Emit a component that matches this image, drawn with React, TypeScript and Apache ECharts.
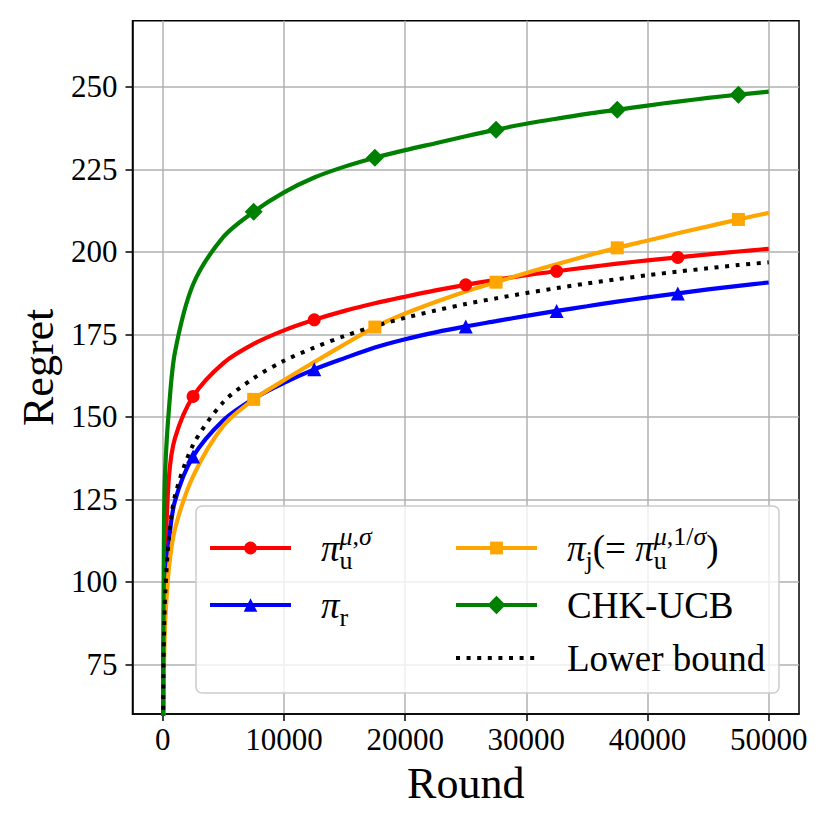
import React, { useEffect, useRef } from "react";
import * as echarts from "echarts";

const rounds = [10, 50, 100, 200, 500, 1000, 2500, 5000, 7500, 10000, 12500, 15000, 17500, 20000, 22500, 25000, 27500, 30000, 32500, 35000, 37500, 40000, 42500, 45000, 47500, 50000];

const regretU = [50, 78, 92, 106, 131.5, 143.5, 156.2, 166.3, 172.1, 176.2, 179.4, 182.1, 184.4, 186.4, 188.3, 190.0, 191.5, 192.9, 194.1, 195.3, 196.4, 197.4, 198.3, 199.2, 200.1, 200.9];
const regretR = [45, 72, 84, 96, 112, 124.5, 138, 149, 155.5, 160.3, 164.4, 167.8, 171.0, 173.5, 175.6, 177.4, 179.0, 180.6, 182.1, 183.5, 184.9, 186.2, 187.4, 188.6, 189.7, 190.7];
const regretJ = [38, 63, 75, 88, 104, 116, 132, 147.3, 155.3, 161.1, 166.6, 172.0, 177.2, 181.3, 184.8, 188.0, 190.8, 193.6, 196.2, 198.8, 201.2, 203.4, 205.6, 207.7, 209.8, 211.8];
const regretCHK = [45, 80, 117, 134, 152, 169.5, 190.1, 204.5, 212.1, 218, 222.5, 225.8, 228.5, 230.8, 232.9, 235.0, 237.0, 238.8, 240.3, 241.8, 243.0, 244.3, 245.5, 246.6, 247.6, 248.5];
const lowerBound = [42, 71, 84, 96.5, 113, 126, 141.5, 154.5, 161.7, 167, 171, 174.5, 177.5, 180, 182.2, 184.2, 185.9, 187.5, 189, 190.4, 191.7, 192.9, 194, 195, 196, 196.8];

const markersA = [2500, 12500, 25000, 32500, 42500];
const markersB = [7500, 17500, 27500, 37500, 47500];

const xTicks = [0, 10000, 20000, 30000, 40000, 50000];
const yTicks = [75, 100, 125, 150, 175, 200, 225, 250];

const names = ["piU", "piR", "piJ", "CHK-UCB", "Lower bound"];

const FONT = "Liberation Serif";

function buildData(values: number[], marks: number[] | null) {
  return rounds.map((r, i) => {
    if (marks && marks.indexOf(r) >= 0) return { value: [r, values[i]] };
    return { value: [r, values[i]], symbol: "none" };
  });
}

const rich = {
  sp: { width: 25, fontSize: 37, lineHeight: 50 },
  pi: { fontFamily: FONT, fontStyle: "italic", fontSize: 37, lineHeight: 50, color: "#000" },
  t: { fontFamily: FONT, fontSize: 37, lineHeight: 50, color: "#000" },
  sub: { fontFamily: FONT, fontSize: 26, lineHeight: 25, verticalAlign: "bottom", color: "#000" },
  subz: { fontFamily: FONT, fontSize: 26, lineHeight: 25, verticalAlign: "bottom", width: 0, color: "#000" },
  sup: { fontFamily: FONT, fontStyle: "italic", fontSize: 26, lineHeight: 25, verticalAlign: "top", color: "#000" },
  supr: { fontFamily: FONT, fontSize: 26, lineHeight: 25, verticalAlign: "top", color: "#000" },
};

const labels: Record<string, string> = {
  piU: "{sp| }{pi|π}{subz|u}{sup|μ}{supr|,}{sup|σ}",
  piR: "{sp| }{pi|π}{sub|r}",
  piJ: "{sp| }{pi|π}{sub|j}{t|(= }{pi|π}{subz|u}{sup|μ}{supr|,1/}{sup|σ}{t|)}",
  "CHK-UCB": "{sp| }{t|CHK-UCB}",
  "Lower bound": "{sp| }{t|Lower bound}",
};

function legendAt(name: string, left: number, top: number, iconH: number) {
  return {
    data: [name],
    left,
    top,
    orient: "vertical",
    padding: 0,
    itemWidth: 81,
    itemHeight: iconH,
    z: 10,
    selectedMode: false,
    lineStyle: { width: 4 },
    formatter: (n: string) => labels[n],
    textStyle: { fontFamily: FONT, fontSize: 37, lineHeight: 50, color: "#000", rich },
  };
}

export default function App() {
  const ref = useRef<HTMLDivElement>(null);
  useEffect(() => {
    if (!ref.current) return;
    const chart = echarts.init(ref.current, undefined, { renderer: "svg" });
    const lw = 4.2;
    const option = {
      animation: false,
      backgroundColor: "#fff",
      grid: { left: 132.5, right: 31, top: 20.7, bottom: 116, show: true, borderColor: "#000", borderWidth: 1.5, backgroundColor: "transparent" },
      xAxis: {
        type: "value",
        min: -2500,
        max: 52500,
        name: "Round",
        nameLocation: "middle",
        nameGap: 47,
        nameTextStyle: { fontFamily: FONT, fontSize: 44, color: "#000" },
        axisLine: { show: true, onZero: false, lineStyle: { color: "#000", width: 1.5 } },
        axisTick: { show: true, length: 7, lineStyle: { color: "#000", width: 1.5 }, customValues: xTicks },
        axisLabel: { customValues: xTicks, fontFamily: FONT, fontSize: 31, color: "#000", margin: 10, formatter: (v: number) => String(v) },
        splitLine: { show: true, lineStyle: { color: "#b0b0b0", width: 1.5 } },
      },
      yAxis: {
        type: "value",
        min: 60,
        max: 270,
        name: "Regret",
        nameLocation: "middle",
        nameGap: 72,
        nameTextStyle: { fontFamily: FONT, fontSize: 44, color: "#000" },
        axisLine: { show: true, onZero: false, lineStyle: { color: "#000", width: 1.5 } },
        axisTick: { show: true, length: 7, lineStyle: { color: "#000", width: 1.5 }, customValues: yTicks },
        axisLabel: { customValues: yTicks, fontFamily: FONT, fontSize: 31, color: "#000", margin: 15, formatter: (v: number) => String(v) },
        splitLine: { show: true, lineStyle: { color: "#b0b0b0", width: 1.5 } },
      },
      legend: [
        legendAt("piU", 208, 523, 16),
        legendAt("piR", 208, 580, 17),
        legendAt("piJ", 454, 523, 16),
        legendAt("CHK-UCB", 454, 580, 23),
        legendAt("Lower bound", 454, 633, 16),
      ],
      graphic: {
        elements: [
          {
            type: "rect",
            z: 3,
            shape: { x: 196, y: 506, width: 583, height: 187, r: 6 },
            style: { fill: "rgba(255,255,255,0.8)", stroke: "#cccccc", lineWidth: 1.5 },
          },
        ],
      },
      series: [
        {
          name: names[0], type: "line", smooth: 0.3,
          data: buildData(regretU, markersA), symbol: "circle", symbolSize: 13,
          color: "#ff0000", lineStyle: { width: lw, color: "#ff0000" }, itemStyle: { color: "#ff0000" },
        },
        {
          name: names[1], type: "line", smooth: 0.3,
          data: buildData(regretR, markersA), symbol: "triangle", symbolSize: 14,
          color: "#0000ff", lineStyle: { width: lw, color: "#0000ff" }, itemStyle: { color: "#0000ff" },
        },
        {
          name: names[2], type: "line", smooth: 0.3,
          data: buildData(regretJ, markersB), symbol: "rect", symbolSize: 13,
          color: "#ffa500", lineStyle: { width: lw, color: "#ffa500" }, itemStyle: { color: "#ffa500" },
        },
        {
          name: names[3], type: "line", smooth: 0.3,
          data: buildData(regretCHK, markersB), symbol: "diamond", symbolSize: 18,
          color: "#008000", lineStyle: { width: lw, color: "#008000" }, itemStyle: { color: "#008000" },
        },
        {
          name: names[4], type: "line", smooth: 0.3,
          data: buildData(lowerBound, null), symbol: "none",
          color: "#000", lineStyle: { width: 4, color: "#000", type: [4, 6.6], cap: "butt" }, itemStyle: { color: "rgba(0,0,0,0)" },
        },
      ],
    };
    chart.setOption(option as any);
    return () => chart.dispose();
  }, []);
  return <div ref={ref} style={{ position: "fixed", left: 0, top: 0, width: 830, height: 830, background: "#fff" }} />;
}
